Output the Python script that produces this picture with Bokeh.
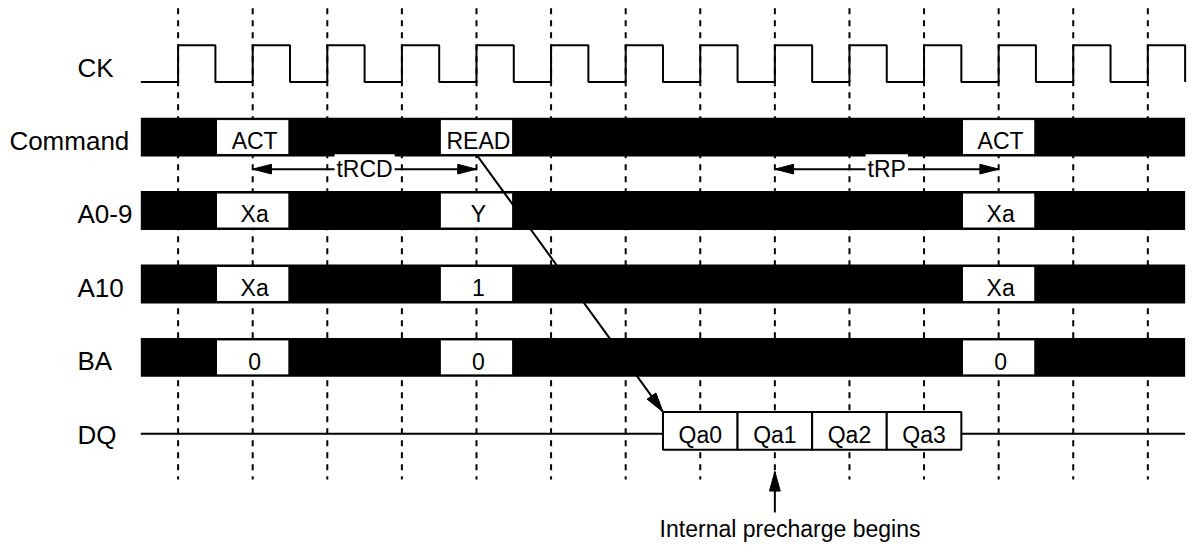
from bokeh.plotting import figure
from bokeh.models import Range1d
from bokeh.core.properties import value
from bokeh.embed import file_html
from bokeh.resources import INLINE
import math

# ---------------- data ----------------
signal_names = ["CK", "Command", "A0-9", "A10", "BA", "DQ"]
clock_edges = list(range(14))            # rising clock edges (in clock periods)
bus_signals = ["Command", "A0-9", "A10", "BA"]
bus_edges = [1, 4, 11]                   # clock edges where the bus carries a value
cmd_values = ["ACT", "READ", "ACT"]
a09_values = ["Xa", "Y", "Xa"]
a10_values = ["Xa", "1", "Xa"]
ba_values = ["0", "0", "0"]
dq_edges = [7, 8, 9, 10]
dq_values = ["Qa0", "Qa1", "Qa2", "Qa3"]
timings = ["tRCD", "tRP"]
timing_start = [1, 8]
timing_end = [4, 11]
read_edge = 4
precharge_edge = 8
precharge_text = "Internal precharge begins"

bus_map = dict(zip(bus_signals, [cmd_values, a09_values, a10_values, ba_values]))

# ---------------- layout ----------------
W, H = 1187, 544
REF_W, REF_H = 1203, 560
U = 75.6                     # reference pixels per clock period (also per row)
X0PX, Y0PX = 180.0, 65.0     # reference pixel of edge 0 / CK row
def px(d):
    return d / U
x_start = (0 - X0PX) / U
x_end = (REF_W - X0PX) / U
y_top = (0 - Y0PX) / U
y_bottom = (REF_H - Y0PX) / U

FONT = value("Liberation Sans")
row = {n: i for i, n in enumerate(signal_names)}
t_first, t_last = -0.5, clock_edges[-1] + 0.5

p = figure(width=W, height=H, x_range=Range1d(x_start, x_end),
           y_range=Range1d(y_bottom, y_top), output_backend="svg",
           toolbar_location=None, x_axis_type=None, y_axis_type=None,
           min_border=0)
p.grid.visible = False
p.outline_line_color = None
p.background_fill_color = "white"
p.border_fill_color = "white"

# dashed clock-edge guides
p.segment(x0=clock_edges, y0=[(8 - Y0PX) / U] * len(clock_edges),
          x1=clock_edges, y1=[row["DQ"] + px(50)] * len(clock_edges),
          line_color="black", line_width=2, line_dash="6 6")

# CK waveform
ck_x, ck_y = [t_first], [px(19)]
for e in clock_edges:
    ck_x += [e, e, e + 0.5, e + 0.5]
    ck_y += [px(19), -px(19), -px(19), px(19)]
p.line(ck_x, [row["CK"] + v for v in ck_y], line_color="black", line_width=2)

# bus bars and value boxes
for name in bus_signals:
    r = row[name]
    p.quad(left=[t_first], right=[t_last], top=[r - px(20)], bottom=[r + px(20)],
           fill_color="black", line_color=None)
    vals = bus_map[name]
    p.quad(left=[e - 0.485 for e in bus_edges], right=[e + 0.485 for e in bus_edges],
           top=[r - px(18)] * len(bus_edges), bottom=[r + px(18)] * len(bus_edges),
           fill_color="white", line_color="black", line_width=1)
    p.text(x=[e + px(2) for e in bus_edges], y=[r + px(4)] * len(bus_edges), text=vals,
           text_font=FONT, text_font_size="23px", text_align="center",
           text_baseline="alphabetic", text_color="black")

# DQ line and burst boxes
rd = row["DQ"]
p.segment(x0=[t_first, dq_edges[-1] + 0.5], y0=[rd + px(3)] * 2,
          x1=[dq_edges[0] - 0.5, t_last], y1=[rd + px(3)] * 2,
          line_color="black", line_width=2)
p.quad(left=[e - 0.5 for e in dq_edges], right=[e + 0.5 for e in dq_edges],
       top=[rd - px(19.5)] * len(dq_edges), bottom=[rd + px(19.5)] * len(dq_edges),
       fill_color="white", line_color="black", line_width=2)
p.text(x=dq_edges, y=[rd + px(4)] * len(dq_edges), text=dq_values,
       text_font=FONT, text_font_size="23px", text_align="center",
       text_baseline="alphabetic", text_color="black")

# row labels
lab_x = [(9 - X0PX) / U if n == "Command" else (78 - X0PX) / U for n in signal_names]
lab_y = [row[n] + px(4) for n in signal_names]
p.text(x=lab_x, y=lab_y, text=signal_names, text_font=FONT, text_font_size="26px",
       text_align="left", text_baseline="alphabetic", text_color="black")

def head(tip_x, tip_y, dx, dy, length, width):
    n = math.hypot(dx, dy)
    ux, uy = dx / n, dy / n
    bx, by = tip_x - ux * length, tip_y - uy * length
    nx, ny = -uy * width / 2, ux * width / 2
    return [tip_x, bx + nx, bx - nx], [tip_y, by + ny, by - ny]

hx, hy = [], []
# timing arrows
ta_y = row["Command"] + px(33)
p.segment(x0=timing_start, y0=[ta_y] * 2, x1=timing_end, y1=[ta_y] * 2,
          line_color="black", line_width=2)
for a, b in zip(timing_start, timing_end):
    for tip, d in ((a, -1), (b, 1)):
        xs, ys = head(tip, ta_y, d, 0, px(19), px(10))
        hx.append(xs); hy.append(ys)
p.text(x=[(a + b) / 2 for a, b in zip(timing_start, timing_end)], y=[ta_y] * 2,
       text=timings, text_font=FONT, text_font_size="23px", text_align="center",
       text_baseline="middle", text_color="black",
       background_fill_color="white", padding=2)

# READ -> data arrow
sx, sy = read_edge, row["Command"] + px(18)
ex, ey = dq_edges[0] - 0.5, rd - px(19.5)
p.line([sx, ex], [sy, ey], line_color="black", line_width=2)
xs, ys = head(ex, ey, ex - sx, ey - sy, px(20), px(11))
hx.append(xs); hy.append(ys)

# internal precharge arrow
pt = rd + px(42)
pb = rd + px(84)
p.line([precharge_edge, precharge_edge], [pt, pb], line_color="black", line_width=2)
xs, ys = head(precharge_edge, pt, 0, -1, px(20), px(11))
hx.append(xs); hy.append(ys)
p.patches(hx, hy, fill_color="black", line_color="black", line_width=1)

p.text(x=[(668 - X0PX) / U], y=[rd + px(101)], text=[precharge_text], text_font=FONT,
       text_font_size="23px", text_align="left", text_baseline="alphabetic",
       text_color="black")

open("out.html", "w").write(file_html(p, INLINE))
